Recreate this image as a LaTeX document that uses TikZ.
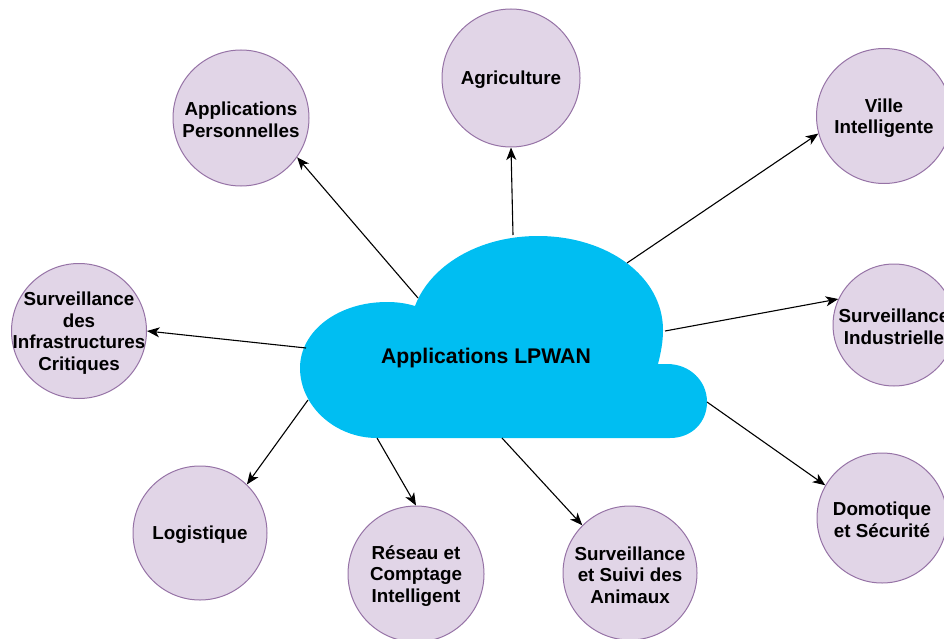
\documentclass[tikz,border=0pt]{standalone}
\usepackage{fontspec}
\setmainfont{Liberation Sans}
\usetikzlibrary{arrows.meta}
\definecolor{bubblefill}{HTML}{E1D5E7}
\definecolor{bubbleline}{HTML}{9673A6}
\definecolor{lpwanblue}{HTML}{00BEF2}
\tikzset{
    bubble/.style={circle,draw=bubbleline,fill=bubblefill,line width=1pt, minimum size=#1, inner sep=0},
    bubble/.default=134pt,
    btext/.style={font=\bfseries\fontsize{18.8}{21.5}\selectfont, align=center, text=black, yshift=-2pt},
    link/.style={-{Stealth[length=12.5pt,width=10pt,inset=3.5pt]}, line width=1.1pt}
}

\begin{document}
\begin{tikzpicture}[x=1pt,y=-1pt]
    \useasboundingbox (0,0) rectangle (944,639);
    % the cloud
    \fill[lpwanblue] (377,438) -- (670,438)
        .. controls (692,438) and (707,422) .. (707,402)
        .. controls (707,381) and (690,364) .. (667,364)
        -- (658,364)
        .. controls (661,352) and (663,342) .. (663,330)
        .. controls (663,276) and (607,236) .. (538,236)
        .. controls (478,236) and (430,266) .. (415,306)
        .. controls (405,303) and (396,302) .. (387,302)
        .. controls (338,302) and (300,331) .. (300,368)
        .. controls (300,406) and (335,438) .. (377,438) -- cycle;
    \node[font=\bfseries\fontsize{21.2}{24}\selectfont] (lpwan) at (486,358) {Applications LPWAN};
    \coordinate (fromPerso) at (418,298);
    \coordinate (fromAgri) at (513,235);
    \coordinate (fromVille) at (627,263);
    \coordinate (fromIndus) at (665,331);
    \coordinate (fromInfra) at (306,348);
    \coordinate (fromLogi) at (308,400);
    \coordinate (fromReseau) at (377,438);
    \coordinate (fromAnimaux) at (502,438);
    \coordinate (fromDomo) at (707,402);

    % the applications
    \node[bubble=136pt, label={[btext]center:Applications\\Personnelles}] (perso) at (241,118) {};
    \node[bubble=138pt, label={[btext]center:Agriculture}] (agri) at (511,78) {};
    \node[bubble=135pt, label={[btext]center:Ville\\Intelligente}] (ville) at (884,116) {};
    \node[bubble=122pt, label={[btext]center:Surveillance\\Industrielle}] (indus) at (894,325) {};
    \node[bubble=135pt, label={[btext]center:Surveillance\\des\\Infrastructures\\Critiques}] (infra) at (79,331) {};
    \node[bubble, label={[btext]center:Logistique}] (logi) at (200,533) {};
    \node[bubble=136pt, label={[btext]center:Réseau et\\Comptage\\Intelligent}] (reseau) at (416,574) {};
    \node[bubble, label={[btext]center:Surveillance\\et Suivi des\\Animaux}] (animaux) at (630,573) {};
    \node[bubble=130pt, label={[btext]center:Domotique\\et Sécurité}] (domo) at (882,518) {};

    \draw[link] (fromPerso) -- (perso.-35);
    \draw[link] (fromAgri) -- (agri.south);
    \draw[link] (fromVille) -- (ville.195);
    \draw[link] (fromIndus) -- (indus.155);
    \draw[link] (fromInfra) -- (infra.east);
    \draw[link] (fromLogi) -- (logi.46);
    \draw[link] (fromReseau) -- (reseau.north);
    \draw[link] (fromAnimaux) -- (animaux.135);
    \draw[link] (fromDomo) -- (domo.150);
\end{tikzpicture}
\end{document}
